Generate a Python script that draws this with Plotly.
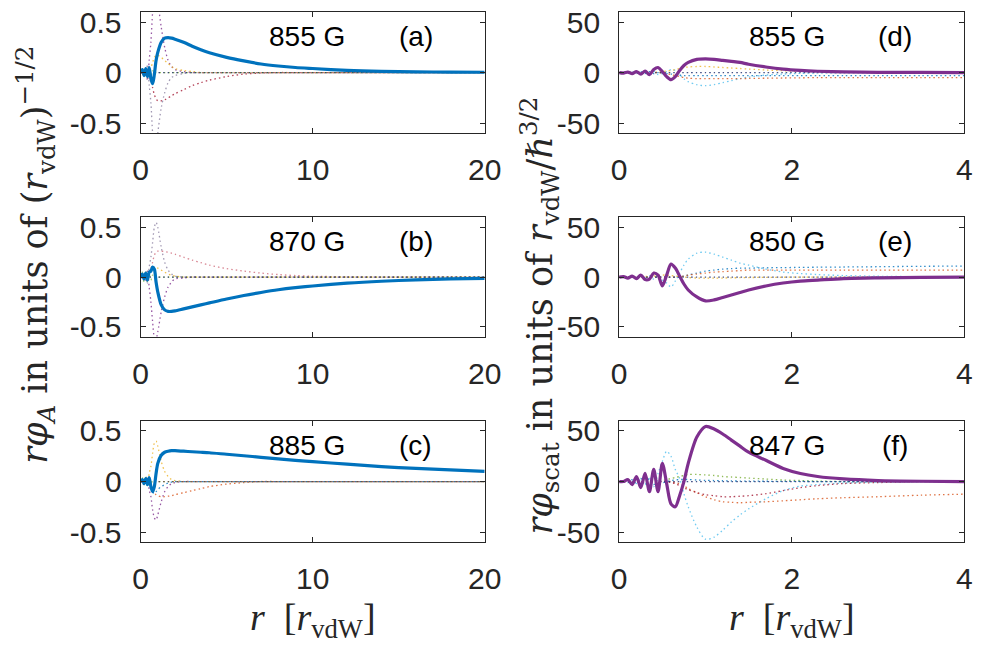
import plotly.graph_objects as go

# ---------------- data ----------------
r_left = [0, 0.1, 0.2, 0.3, 0.4, 0.5, 0.6, 0.7, 0.8, 0.9, 1.0, 1.2, 1.4, 1.6, 1.8, 2.0,
          2.5, 3, 3.5, 4, 5, 6, 7, 8, 9, 10, 12, 14, 16, 18, 20]
r_right = [0, 0.05, 0.1, 0.15, 0.2, 0.25, 0.3, 0.35, 0.4, 0.45, 0.5, 0.55, 0.6, 0.65, 0.7,
           0.75, 0.8, 0.9, 1.0, 1.1, 1.2, 1.3, 1.4, 1.5, 1.7, 1.9, 2.1, 2.3, 2.6, 3.0, 3.5, 4.0]

# (a) 855 G
a_main = [0, 0.03, -0.03, 0.04, -0.04, 0.05, -0.06, -0.11, -0.02, 0.12, 0.20, 0.30, 0.34, 0.345,
          0.34, 0.33, 0.30, 0.26, 0.225, 0.195, 0.15, 0.115, 0.085, 0.065, 0.05, 0.04, 0.022,
          0.012, 0.007, 0.004, 0.003]
a_up = [0, 0.02, -0.03, 0.05, -0.08, 0.12, 0.3, 0.6, 0.8, 0.8, 0.7, 0.45, 0.25, 0.12, 0.06,
        0.03, 0.01, 0, 0, 0, 0, 0, 0, 0, 0, 0, 0, 0, 0, 0, 0]
a_down = [0, -0.02, 0.03, -0.05, 0.08, -0.12, -0.3, -0.6, -0.8, -0.75, -0.6, -0.35, -0.2, -0.1,
          -0.05, -0.03, -0.01, 0, 0, 0, 0, 0, 0, 0, 0, 0, 0, 0, 0, 0, 0]
a_red = [0, 0, 0.01, -0.01, 0.02, -0.03, -0.08, -0.15, -0.22, -0.26, -0.28, -0.28, -0.27, -0.25,
         -0.23, -0.21, -0.17, -0.13, -0.1, -0.075, -0.04, -0.015, -0.005, 0, 0, 0, 0, 0, 0, 0, 0]
a_yellow = [0, 0.01, -0.01, 0.02, -0.02, 0.03, 0.05, 0.1, 0.15, 0.17, 0.17, 0.15, 0.12, 0.09,
            0.06, 0.04, 0.02, 0.01, 0, 0, 0, 0, 0, 0, 0, 0, 0, 0, 0, 0, 0]
a_green = [0, 0.04, -0.04, 0.05, -0.05, 0.04, -0.03, 0.02, -0.01, 0, 0, 0, 0, 0, 0, 0, 0, 0, 0,
           0, 0, 0, 0, 0, 0, 0, 0, 0, 0, 0, 0]
a_zero = [0] * 31

# (b) 870 G
b_main = [0, 0.03, -0.02, 0.04, -0.03, 0.05, 0.06, 0.10, 0.08, -0.05, -0.15, -0.28, -0.33,
          -0.345, -0.345, -0.34, -0.32, -0.30, -0.28, -0.26, -0.22, -0.185, -0.155, -0.128,
          -0.107, -0.09, -0.062, -0.042, -0.028, -0.019, -0.013]
b_up = [0, 0.02, -0.02, 0.04, -0.06, 0.1, 0.2, 0.35, 0.5, 0.55, 0.5, 0.3, 0.15, 0.07, 0.03,
        0.01, 0, 0, 0, 0, 0, 0, 0, 0, 0, 0, 0, 0, 0, 0, 0]
b_down = [0, -0.02, 0.02, -0.04, 0.06, -0.1, -0.25, -0.45, -0.6, -0.62, -0.55, -0.35, -0.2,
          -0.1, -0.05, -0.02, -0.01, 0, 0, 0, 0, 0, 0, 0, 0, 0, 0, 0, 0, 0, 0]
b_red = [0, 0, 0.01, -0.01, 0.02, 0.04, 0.08, 0.15, 0.22, 0.25, 0.26, 0.26, 0.255, 0.25, 0.24,
         0.23, 0.2, 0.17, 0.145, 0.12, 0.085, 0.06, 0.04, 0.025, 0.015, 0.008, 0.003, 0, 0, 0, 0]
b_yellow = [0, 0.01, -0.01, 0.02, -0.03, 0.04, 0.06, 0.08, 0.1, 0.1, 0.09, 0.07, 0.05, 0.03,
            0.02, 0.01, 0, 0, 0, 0, 0, 0, 0, 0, 0, 0, 0, 0, 0, 0, 0]
b_green = [0, 0.05, -0.05, 0.06, -0.05, 0.04, -0.03, 0.02, -0.01, 0, 0, 0, 0, 0, 0, 0, 0, 0, 0,
           0, 0, 0, 0, 0, 0, 0, 0, 0, 0, 0, 0]
b_zero = [0] * 31

# (c) 885 G
c_main = [0, 0.02, -0.02, 0.03, -0.03, 0.04, -0.05, -0.10, -0.05, 0.08, 0.18, 0.26, 0.29,
          0.30, 0.305, 0.305, 0.30, 0.295, 0.29, 0.285, 0.27, 0.255, 0.24, 0.225, 0.21, 0.197,
          0.172, 0.148, 0.13, 0.115, 0.10]
c_up = [0, 0.02, -0.02, 0.03, -0.05, 0.08, 0.15, 0.28, 0.38, 0.4, 0.35, 0.2, 0.1, 0.05, 0.02,
        0.01, 0, 0, 0, 0, 0, 0, 0, 0, 0, 0, 0, 0, 0, 0, 0]
c_down = [0, -0.02, 0.02, -0.03, 0.05, -0.08, -0.15, -0.28, -0.36, -0.38, -0.33, -0.2, -0.1,
          -0.05, -0.02, -0.01, 0, 0, 0, 0, 0, 0, 0, 0, 0, 0, 0, 0, 0, 0, 0]
c_red = [0, 0, 0, 0, 0.01, -0.02, -0.05, -0.08, -0.11, -0.13, -0.14, -0.15, -0.15, -0.145,
         -0.14, -0.13, -0.11, -0.09, -0.07, -0.05, -0.025, -0.01, 0, 0, 0, 0, 0, 0, 0, 0, 0]
c_blue = [0, 0.01, -0.01, 0.02, -0.03, 0.04, -0.06, -0.1, -0.12, -0.1, -0.08, -0.05, -0.03,
          -0.015, -0.005, 0, 0, 0, 0, 0, 0, 0, 0, 0, 0, 0, 0, 0, 0, 0, 0]
c_green = [0, 0.04, -0.04, 0.05, -0.04, 0.03, -0.02, 0.01, 0, 0, 0, 0, 0, 0, 0, 0, 0, 0, 0, 0,
           0, 0, 0, 0, 0, 0, 0, 0, 0, 0, 0]
c_zero = [0] * 31

# (d) 855 G
d_main = [0, -0.5, 0.5, -1, 1, -1.5, 1.5, -2, 3, 5, 1, -4, -7, -4, 2, 7, 10, 13, 13.5, 13, 12,
          11, 10, 8.2, 5.5, 3.4, 2.1, 1.3, 0.6, 0.2, 0.1, 0]
d_cyan = [0, 0, 0, 0, 0.5, -0.5, 1, -1, 1.5, -2, -1, 1, 3, 2, -2, -6, -9, -12, -13, -12, -10,
          -8, -6, -4.5, -2.5, -1.5, -0.8, -0.4, -0.2, 0, 0, 0]
d_orange = [0, 0, 0, 0, 0, 0, 0, 0, 0, 0, -0.5, -1, -2, -3, -4, -5, -5.5, -6, -6, -6, -6, -6,
            -6, -5.8, -5.6, -5.4, -5.2, -5, -5, -5, -5, -5]
d_blue = [0, 0.5, -0.5, 0.5, -1, 1, -1, 1, -1, 0, -0.5, -1, -1.5, -2, -2.5, -3, -3, -3, -3, -3,
          -3, -3, -3, -3, -3, -3, -3, -3, -3, -3, -3, -3]
d_yellow = [0, 0, 0, 0, 0, 0, 0, 0, 0, 0.5, 1, 1.5, 2, 3, 4, 5, 5.5, 6, 6, 5.5, 5, 4.5, 4, 3.5,
            2.5, 1.8, 1.2, 0.8, 0.4, 0, 0, 0]
d_zero = [0] * 32

# (e) 850 G
e_main = [0, 0.5, -1, 1, -1.5, 2, -2.5, -2, 4, 2, -9, 2, 13, 9, 1, -7, -13, -20, -24, -23, -20.5,
          -18, -15.5, -13, -9, -6, -4, -3, -1.5, -0.8, -0.3, -0.1]
e_cyan = [0, 0, 0, 0.5, -0.5, 1, -1, 1.5, -2, 2, -3, -6, -10, -4, 4, 12, 18, 24, 25, 23, 20, 17,
          14, 12, 8, 5, 3.5, 2.5, 1.5, 0.8, 0.4, 0.2]
e_blue = [0, 0, 0, 0, 0, 0, 0, 0, 0, 0, 0, 0, 0, 0, 0.5, 1, 2, 4, 6, 7, 8, 8.5, 9, 9, 9.3, 9.5,
          9.7, 9.9, 10.1, 10.4, 10.8, 11]
e_orange = [0, 0, 0, 0, 0, 0, 0, 0, 0, 0, 0, 0, 0, 0, 0.5, 1, 2, 3, 4, 5, 5.5, 6, 6.5, 7, 7, 7,
            7, 7, 7, 7, 7, 7]
e_yellow = [0, 0, 0, 0, 0.5, -0.5, 1, -1, 1, 1.5, 2, 2, 1.5, 1, 0.5, 0, -0.5, -1, -1, -1, -1,
            -0.8, -0.6, -0.5, -0.3, -0.2, 0, 0, 0, 0, 0, 0]
e_zero = [0] * 32

# (f) 847 G
f_main = [0, 0, 2, -3, 5, -6, 8, -10, 12, -10, 18, -2, -22, -25, -14, 0, 18, 44, 54.5, 52, 47,
          41, 35, 29, 21, 13, 8, 5, 2.6, 1, 0.3, 0]
f_cyan = [0, 0, -1, 1, -2, 2, -3, 4, -5, 8, 20, 30, 25, 12, 3, -12, -25, -45, -57, -55, -48,
          -40, -33, -27, -17, -9, -4.5, -3, -1.5, -0.5, 0, 0]
f_orange = [0, 0, 0, 0, 0, 0, 0, 0, 0, 0, 0, 0, 0, -1, -2, -4, -7, -11, -15, -18, -20, -20.5,
            -21, -20.5, -20, -19, -18, -17, -16, -15, -13.5, -12.5]
f_green = [0, 0, 0, 0, 0, 0, 0, 0, 0, 0, 1, 2, 3, 4, 5, 6, 7, 7, 6.5, 6, 5, 4.5, 4, 3.5, 2.5,
           1.5, 1, 0.5, 0, 0, 0, 0]
f_red = [0, 0, 0, 0, 0, 0, 0, 0, 0, 0, 0, 0, -1, -2, -4, -6, -8, -11, -13, -14, -15, -15,
         -14.5, -14, -12, -9, -6, -4, -2, -1, 0, 0]
f_blue = [0, 1, -1, 2, -2, 3, -3, 3, -3, 2, -1, 0, 1, 1.5, 2, 2, 2, 1.5, 1.2, 1, 0.8, 0.6, 0.5,
          0.4, 0.3, 0.2, 0.1, 0, 0, 0, 0, 0]
f_zero = [0] * 32

field_labels = ["855 G", "870 G", "885 G", "855 G", "850 G", "847 G"]
panel_labels = ["(a)", "(b)", "(c)", "(d)", "(e)", "(f)"]
left_xticks = [0, 10, 20]
right_xticks = [0, 2, 4]
left_yticks = [-0.5, 0, 0.5]
left_yticklabels = ["-0.5", "0", "0.5"]
right_yticks = [-50, 0, 50]
right_yticklabels = ["-50", "0", "50"]

# ---------------- styling ----------------
BLUE = "#0072BD"
ORANGE = "#D95319"
YELLOW = "#EDB120"
PURPLE = "#7E2F8E"
GREEN = "#77AC30"
CYAN = "#4DBEEE"
DARKRED = "#A2142F"
NAVY = "#1b2a6b"

W, H = 993, 650
left_x = (136, 489)
right_x = (627, 981)
rows_px = [(5, 129), (215, 337), (423, 547)]

def xdom(px):
    return [px[0] / W, px[1] / W]

def ydom(px):
    return [1 - px[1] / H, 1 - px[0] / H]

panels = [
    (0, 0, r_left, a_main, BLUE, [(a_up, PURPLE), (a_down, "#8a7fa0"), (a_red, DARKRED),
                                  (a_yellow, YELLOW), (a_green, GREEN), (a_zero, NAVY)]),
    (1, 0, r_left, b_main, BLUE, [(b_up, "#8a7fa0"), (b_down, PURPLE), (b_red, "#d06a7a"),
                                  (b_yellow, YELLOW), (b_green, GREEN), (b_zero, NAVY)]),
    (2, 0, r_left, c_main, BLUE, [(c_up, YELLOW), (c_down, PURPLE), (c_red, ORANGE),
                                  (c_blue, BLUE), (c_green, GREEN), (c_zero, "#5a3a40")]),
    (0, 1, r_right, d_main, PURPLE, [(d_cyan, CYAN), (d_orange, ORANGE), (d_blue, BLUE),
                                     (d_yellow, YELLOW), (d_zero, NAVY)]),
    (1, 1, r_right, e_main, PURPLE, [(e_cyan, CYAN), (e_blue, BLUE), (e_orange, ORANGE),
                                     (e_yellow, YELLOW), (e_zero, NAVY)]),
    (2, 1, r_right, f_main, PURPLE, [(f_cyan, CYAN), (f_orange, ORANGE), (f_green, GREEN),
                                     (f_red, DARKRED), (f_blue, BLUE), (f_zero, NAVY)]),
]
label_index = {(0, 0): 0, (1, 0): 1, (2, 0): 2, (0, 1): 3, (1, 1): 4, (2, 1): 5}

fig = go.Figure()
layout = {}
annotations = []
TICKFONT = dict(family="Liberation Sans, Arial, sans-serif", size=30, color="#262626")
TEXTFONT = dict(family="Liberation Sans, Arial, sans-serif", size=28, color="black")
SERIF = "Liberation Serif, DejaVu Serif, serif"
YSERIF = "DejaVu Serif, Liberation Serif, serif"

for i, (row, col, r, main, mcolor, dotted) in enumerate(panels):
    n = i + 1
    xa = "xaxis" if n == 1 else f"xaxis{n}"
    ya = "yaxis" if n == 1 else f"yaxis{n}"
    xref = "x" if n == 1 else f"x{n}"
    yref = "y" if n == 1 else f"y{n}"
    for vals, colr in dotted:
        fig.add_trace(go.Scatter(x=r, y=vals, mode="lines", xaxis=xref, yaxis=yref,
                                 line=dict(color=colr, width=1.3, dash="1.5px,3px",
                                           shape="spline", smoothing=0.8),
                                 opacity=0.8, showlegend=False, hoverinfo="skip"))
    fig.add_trace(go.Scatter(x=r, y=main, mode="lines", xaxis=xref, yaxis=yref,
                             line=dict(color=mcolor, width=3.2, shape="spline", smoothing=0.8),
                             showlegend=False))
    is_left = col == 0
    layout[xa] = dict(domain=xdom(left_x if is_left else right_x),
                      range=[0, 20] if is_left else [0, 4],
                      tickvals=left_xticks if is_left else right_xticks,
                      ticktext=[str(v) for v in (left_xticks if is_left else right_xticks)],
                      anchor=yref, showline=True, linecolor="#262626", linewidth=1,
                      mirror="ticks", ticks="inside", ticklen=5, tickcolor="#262626",
                      showgrid=False, zeroline=False, tickfont=TICKFONT,
                      ticklabelstandoff=10, fixedrange=True)
    layout[ya] = dict(domain=ydom(rows_px[row]),
                      range=[-0.6, 0.6] if is_left else [-60, 60],
                      tickvals=left_yticks if is_left else right_yticks,
                      ticktext=left_yticklabels if is_left else right_yticklabels,
                      anchor=xref, showline=True, linecolor="#262626", linewidth=1,
                      mirror="ticks", ticks="inside", ticklen=5, tickcolor="#262626",
                      showgrid=False, zeroline=False, tickfont=TICKFONT,
                      ticklabelstandoff=12, fixedrange=True)
    k = label_index[(row, col)]
    annotations.append(dict(text=field_labels[k], x=9.7 if is_left else 1.95,
                            y=0.36 if is_left else 36, xref=xref, yref=yref,
                            showarrow=False, font=TEXTFONT, xanchor="center", yanchor="middle"))
    annotations.append(dict(text=panel_labels[k], x=16.0 if is_left else 3.2,
                            y=0.36 if is_left else 36, xref=xref, yref=yref,
                            showarrow=False, font=TEXTFONT, xanchor="center", yanchor="middle"))

# axis titles
for px_range in (left_x, right_x):
    annotations.append(dict(text="<i>r</i>  [<i>r</i><sub>vdW</sub>]",
                            x=(px_range[0] + px_range[1]) / 2 / W, y=1 - 626 / H,
                            xref="paper", yref="paper", showarrow=False,
                            font=dict(family=SERIF, size=38, color="#262626"),
                            xanchor="center", yanchor="middle"))
annotations.append(dict(text="<i>rφ</i><sub><i>A</i></sub> in units of (<i>r</i><sub>vdW</sub>)<sup>−1/2</sup>",
                        x=28 / W, y=1 - 253 / H, xref="paper", yref="paper",
                        showarrow=False, textangle=-90,
                        font=dict(family=YSERIF, size=35, color="#262626"),
                        xanchor="center", yanchor="middle"))
annotations.append(dict(text="<i>rφ</i><sub>scat</sub> in units of <i>r</i><sub>vdW</sub>/ℏ<sup>3/2</sup>",
                        x=545 / W, y=1 - 315 / H, xref="paper", yref="paper",
                        showarrow=False, textangle=-90,
                        font=dict(family=YSERIF, size=35, color="#262626"),
                        xanchor="center", yanchor="middle"))

fig.update_layout(width=W, height=H, margin=dict(l=0, r=0, t=0, b=0),
                  paper_bgcolor="white", plot_bgcolor="white",
                  annotations=annotations, **layout)
fig.write_html("out.html")
